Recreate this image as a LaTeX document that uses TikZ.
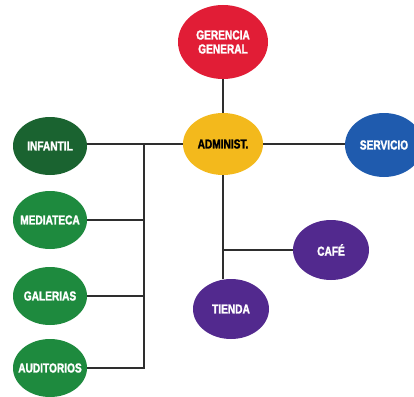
\documentclass[tikz,border=0pt]{standalone}
\usepackage{fontspec}
\setmainfont{Liberation Sans}[BoldFeatures={FakeBold=2}]
\usetikzlibrary{shapes.geometric}
\definecolor{cred}{HTML}{E11D36}
\definecolor{cyel}{HTML}{F3B91C}
\definecolor{cblue}{HTML}{1F5BAE}
\definecolor{cdgreen}{HTML}{1A6330}
\definecolor{cgreen}{HTML}{1E8A3E}
\definecolor{cpurp}{HTML}{52298E}
\definecolor{cline}{HTML}{2E2E2E}
\newcommand{\lbl}[1]{\makebox[0pt]{\scalebox{0.78}[1]{\bfseries #1}}}
\begin{document}
\begin{tikzpicture}[x=1pt,y=-1pt,
  orgnode/.style={ellipse,inner sep=0pt,minimum width=76pt,minimum height=60pt,
     text=white,font=\fontsize{13}{13}\selectfont,align=center},
  conn/.style={draw=cline,line width=1.8pt}]
\useasboundingbox (0,0) rectangle (414,396);
\clip (0,0) rectangle (414,396);
\node[orgnode,fill=cred,minimum width=90pt,minimum height=74pt] (ger) at (223,42) {\lbl{GERENCIA}\\[1pt]\lbl{GENERAL}};
\node[orgnode,fill=cyel,text=black,minimum width=80pt,minimum height=62pt] (adm) at (223,144) {\lbl{ADMINIST.}};
\node[orgnode,fill=cdgreen,minimum width=74pt,minimum height=58pt] (inf) at (50,146) {\lbl{INFANTIL}};
\node[orgnode,fill=cblue,minimum width=78pt,minimum height=64pt] (ser) at (384,145) {\lbl{SERVICIO}};
\node[orgnode,fill=cgreen,minimum width=74pt,minimum height=58pt] (med) at (50,220) {\lbl{MEDIATECA}};
\node[orgnode,fill=cgreen,minimum width=74pt,minimum height=58pt] (gal) at (50,296) {\lbl{GALERIAS}};
\node[orgnode,fill=cgreen,minimum width=74pt,minimum height=58pt] (aud) at (50,368) {\lbl{AUDITORIOS}};
\node[orgnode,fill=cpurp,minimum width=76pt,minimum height=60pt] (caf) at (331,250) {\lbl{CAFÉ}};
\node[orgnode,fill=cpurp,minimum width=76pt,minimum height=60pt] (tie) at (231,309) {\lbl{TIENDA}};
\coordinate (jl) at (144,144);
\coordinate (jc) at (223,250);
\draw[conn] (ger.south) -- (adm.north);
\draw[conn] (adm.west -| inf.east) -- (adm.west);
\draw[conn] (adm.east) -- (adm.east -| ser.west);
\draw[conn] (jl) |- (aud.east);
\draw[conn] (med.east) -- (med.east -| jl);
\draw[conn] (gal.east) -- (gal.east -| jl);
\draw[conn] (adm.south) -- (jc |- tie.north);
\draw[conn] (jc) -- (caf.west);
\end{tikzpicture}
\end{document}
